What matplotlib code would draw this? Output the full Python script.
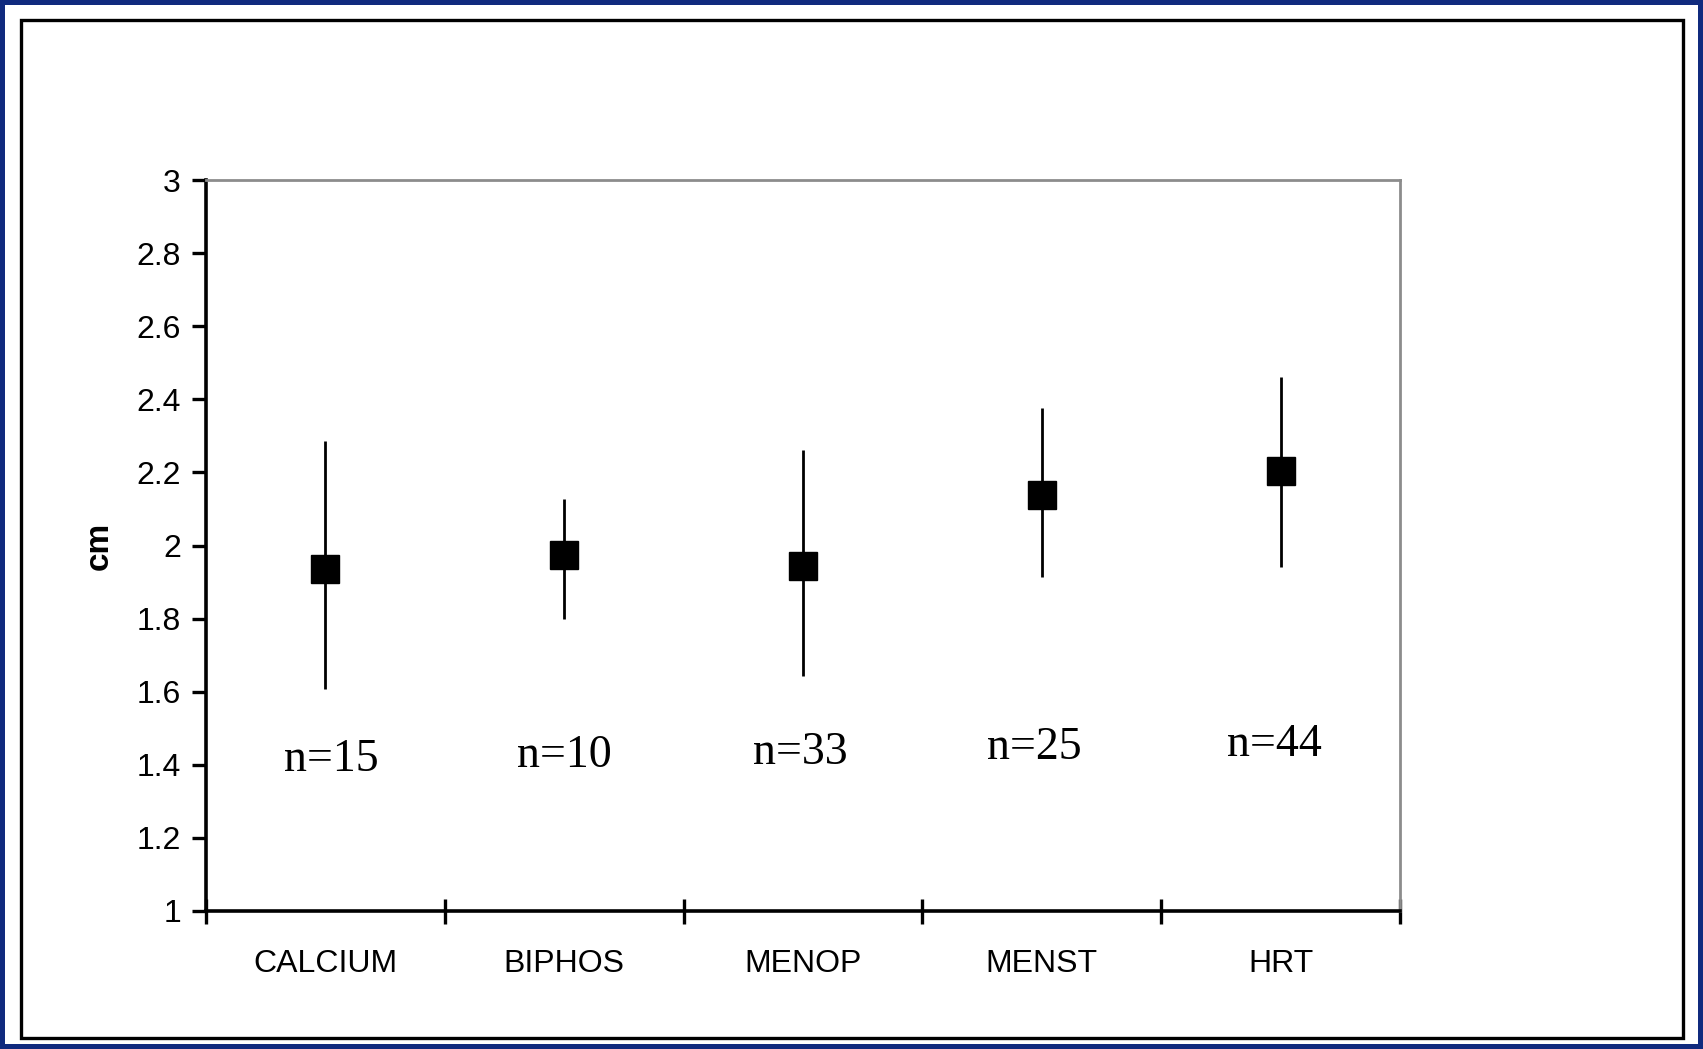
import matplotlib
matplotlib.use("Agg")
import matplotlib.pyplot as plt
from matplotlib.patches import Rectangle
import numpy as np

# values
groups = ["CALCIUM", "BIPHOS", "MENOP", "MENST", "HRT"]
means = [1.937, 1.975, 1.945, 2.138, 2.204]
lower = [1.608, 1.800, 1.642, 1.915, 1.942]
upper = [2.287, 2.127, 2.260, 2.376, 2.462]
n_labels = ["n=15", "n=10", "n=33", "n=25", "n=44"]
n_label_y = [1.413, 1.425, 1.433, 1.448, 1.455]
yticks = [1, 1.2, 1.4, 1.6, 1.8, 2, 2.2, 2.4, 2.6, 2.8, 3]

W, H = 1703, 1049
fig = plt.figure(figsize=(W / 100, H / 100), dpi=100)
fig.patch.set_facecolor("#102a7e")
# white panel inside the blue border, then the black frame
fig.patches.append(Rectangle((5 / W, 5 / H), 1 - 10 / W, 1 - 10 / H, transform=fig.transFigure,
                             facecolor="white", edgecolor="none", zorder=-2))
fig.patches.append(Rectangle((21 / W, 11 / H), 1662 / W, 1018 / H, transform=fig.transFigure,
                             facecolor="none", edgecolor="black", lw=2.4, zorder=-1))

ax = fig.add_axes([206 / W, 1 - 911 / H, 1194 / W, 731 / H])
ax.set_facecolor("white")
x = np.arange(len(groups))
ax.vlines(x, lower, upper, color="black", lw=2.0, zorder=2)
ax.plot(x, means, "s", color="black", ms=20, zorder=3)
# labels sit a little off-centre in the original
for xi, dx, lab, yy in zip(x, [0.025, 0.0, -0.01, -0.03, -0.027], n_labels, n_label_y):
    ax.text(xi + dx, yy, lab, ha="center", va="center", fontsize=33, family="Liberation Serif")

ax.set_xlim(-0.5, len(groups) - 0.5)
ax.set_ylim(1, 3)
ax.set_yticks(yticks)
ax.set_yticklabels([f"{t:g}" for t in yticks], fontsize=23, family="Liberation Sans")
ax.set_xticks(x)
ax.set_xticklabels(groups, fontsize=23, family="Liberation Sans")
ax.set_xticks(np.arange(-0.5, len(groups), 1), minor=True)
ax.tick_params(axis="x", which="major", length=0, pad=27)
ax.tick_params(axis="x", which="minor", direction="inout", length=18, width=2.4)
ax.tick_params(axis="y", direction="out", length=10, width=2.4, pad=8)
for s in ("left", "bottom"):
    ax.spines[s].set_linewidth(2.6)
for s in ("top", "right"):
    ax.spines[s].set_color("#8c8c8c")
    ax.spines[s].set_linewidth(2.0)
ax.set_ylabel("cm", fontsize=24, fontweight="bold", family="Liberation Sans", labelpad=16)

fig.savefig("out.png", dpi=100, facecolor=fig.get_facecolor())
